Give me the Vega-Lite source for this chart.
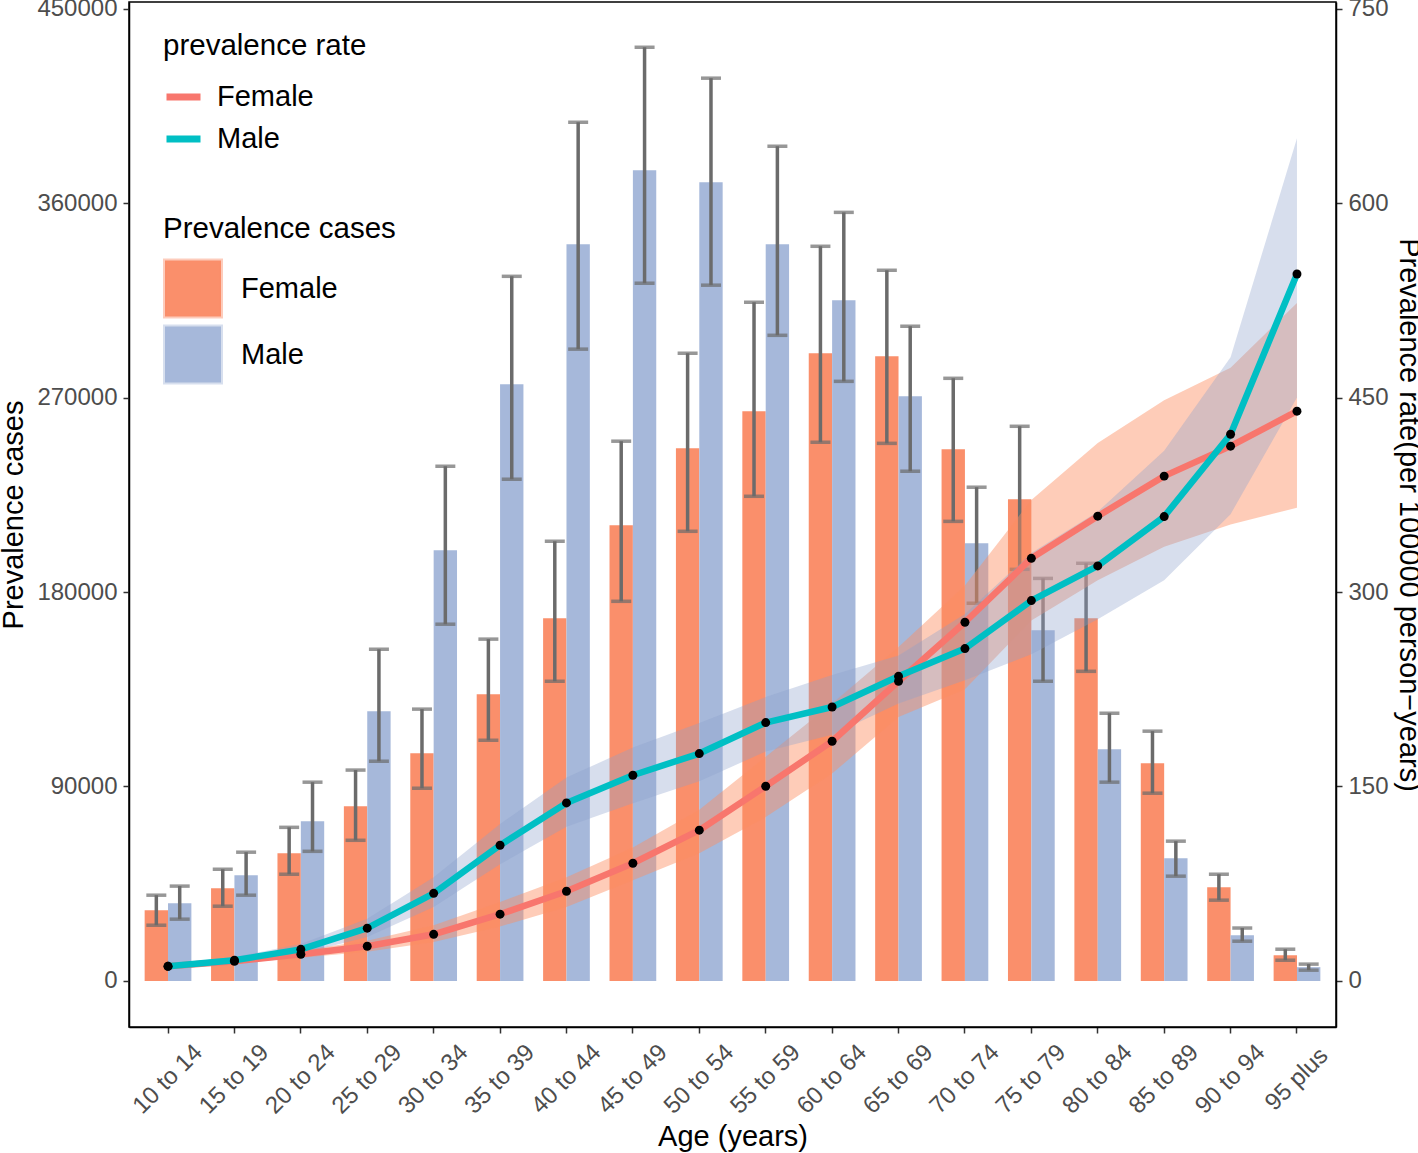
{
  "$schema": "https://vega.github.io/schema/vega-lite/v6.json",
  "width": 1207,
  "height": 1025,
  "autosize": {"type": "none"},
  "padding": {"left": 129, "top": 2, "right": 82, "bottom": 126},
  "background": "white",
  "config": {
    "font": "Liberation Sans",
    "view": {"stroke": "black", "strokeWidth": 1.5},
    "axis": {
      "grid": false,
      "domainColor": "black",
      "domainWidth": 1.5,
      "tickColor": "#333333",
      "tickWidth": 1.5,
      "tickSize": 6,
      "labelFont": "Liberation Sans",
      "labelFontSize": 24,
      "labelColor": "#4D4D4D",
      "titleFont": "Liberation Sans",
      "titleFontSize": 29,
      "titleFontWeight": "normal",
      "titleColor": "black"
    },
    "legend": {
      "titleFont": "Liberation Sans",
      "titleFontSize": 29.5,
      "titleFontWeight": "normal",
      "titleColor": "black",
      "titleLimit": 400,
      "labelFont": "Liberation Sans",
      "labelFontSize": 29,
      "labelColor": "black",
      "labelLimit": 300
    }
  },
  "datasets": {
    "d": [
      {"age": "10 to 14", "sex": "Female", "cases": 32700, "clo": 25800, "chi": 39700, "rate": 11.3, "rlo": 10, "rhi": 12.8},
      {"age": "15 to 19", "sex": "Female", "cases": 42900, "clo": 34600, "chi": 51700, "rate": 15.2, "rlo": 13.5, "rhi": 17},
      {"age": "20 to 24", "sex": "Female", "cases": 59100, "clo": 49400, "chi": 71100, "rate": 20.6, "rlo": 18, "rhi": 23.5},
      {"age": "25 to 29", "sex": "Female", "cases": 80900, "clo": 65100, "chi": 97600, "rate": 26.8, "rlo": 22.5, "rhi": 31},
      {"age": "30 to 34", "sex": "Female", "cases": 105400, "clo": 89200, "chi": 125800, "rate": 36, "rlo": 30, "rhi": 43},
      {"age": "35 to 39", "sex": "Female", "cases": 132700, "clo": 111400, "chi": 158200, "rate": 51.5, "rlo": 42, "rhi": 61},
      {"age": "40 to 44", "sex": "Female", "cases": 167900, "clo": 138700, "chi": 203500, "rate": 69.2, "rlo": 57, "rhi": 80},
      {"age": "45 to 49", "sex": "Female", "cases": 210900, "clo": 175700, "chi": 249800, "rate": 90.8, "rlo": 77.7, "rhi": 103},
      {"age": "50 to 54", "sex": "Female", "cases": 246500, "clo": 208100, "chi": 290500, "rate": 116.3, "rlo": 98.5, "rhi": 132},
      {"age": "55 to 59", "sex": "Female", "cases": 263600, "clo": 224300, "chi": 314100, "rate": 150.2, "rlo": 126.5, "rhi": 173},
      {"age": "60 to 64", "sex": "Female", "cases": 290500, "clo": 249300, "chi": 340000, "rate": 184.9, "rlo": 160, "rhi": 214},
      {"age": "65 to 69", "sex": "Female", "cases": 289100, "clo": 248800, "chi": 328900, "rate": 231.2, "rlo": 203.6, "rhi": 257.6},
      {"age": "70 to 74", "sex": "Female", "cases": 246100, "clo": 212700, "chi": 278900, "rate": 276.7, "rlo": 225, "rhi": 305},
      {"age": "75 to 79", "sex": "Female", "cases": 222900, "clo": 190500, "chi": 256700, "rate": 326, "rlo": 278, "rhi": 371},
      {"age": "80 to 84", "sex": "Female", "cases": 167900, "clo": 143300, "chi": 193300, "rate": 358.5, "rlo": 309, "rhi": 415},
      {"age": "85 to 89", "sex": "Female", "cases": 100800, "clo": 86900, "chi": 115600, "rate": 389.4, "rlo": 335, "rhi": 448},
      {"age": "90 to 94", "sex": "Female", "cases": 43400, "clo": 37400, "chi": 49400, "rate": 412.5, "rlo": 352, "rhi": 473},
      {"age": "95 plus", "sex": "Female", "cases": 11900, "clo": 9600, "chi": 14700, "rate": 439.5, "rlo": 365, "rhi": 523},
      {"age": "10 to 14", "sex": "Male", "cases": 36000, "clo": 28600, "chi": 43900, "rate": 11.3, "rlo": 10, "rhi": 13},
      {"age": "15 to 19", "sex": "Male", "cases": 48900, "clo": 39700, "chi": 59600, "rate": 16, "rlo": 14, "rhi": 18.5},
      {"age": "20 to 24", "sex": "Male", "cases": 73900, "clo": 60000, "chi": 92000, "rate": 24.4, "rlo": 21, "rhi": 28.5},
      {"age": "25 to 29", "sex": "Male", "cases": 124800, "clo": 101700, "chi": 153500, "rate": 40.7, "rlo": 34, "rhi": 48},
      {"age": "30 to 34", "sex": "Male", "cases": 199300, "clo": 165100, "chi": 238200, "rate": 67.6, "rlo": 57, "rhi": 80},
      {"age": "35 to 39", "sex": "Male", "cases": 276100, "clo": 232200, "chi": 326100, "rate": 104.7, "rlo": 90, "rhi": 121},
      {"age": "40 to 44", "sex": "Male", "cases": 340900, "clo": 292400, "chi": 397400, "rate": 137.3, "rlo": 119, "rhi": 157},
      {"age": "45 to 49", "sex": "Male", "cases": 375200, "clo": 322900, "chi": 432100, "rate": 158.7, "rlo": 137, "rhi": 180},
      {"age": "50 to 54", "sex": "Male", "cases": 369600, "clo": 322000, "chi": 417800, "rate": 175.4, "rlo": 154, "rhi": 199},
      {"age": "55 to 59", "sex": "Male", "cases": 340900, "clo": 298800, "chi": 386300, "rate": 199.3, "rlo": 177, "rhi": 219},
      {"age": "60 to 64", "sex": "Male", "cases": 315000, "clo": 277500, "chi": 355700, "rate": 211.3, "rlo": 190, "rhi": 236},
      {"age": "65 to 69", "sex": "Male", "cases": 270600, "clo": 235900, "chi": 303000, "rate": 235, "rlo": 214, "rhi": 251},
      {"age": "70 to 74", "sex": "Male", "cases": 202600, "clo": 174800, "chi": 228500, "rate": 256.4, "rlo": 232, "rhi": 283},
      {"age": "75 to 79", "sex": "Male", "cases": 162300, "clo": 138700, "chi": 186300, "rate": 293.4, "rlo": 252, "rhi": 330},
      {"age": "80 to 84", "sex": "Male", "cases": 107200, "clo": 92000, "chi": 123900, "rate": 320.1, "rlo": 279, "rhi": 362},
      {"age": "85 to 89", "sex": "Male", "cases": 56800, "clo": 48500, "chi": 64700, "rate": 358.2, "rlo": 309, "rhi": 409},
      {"age": "90 to 94", "sex": "Male", "cases": 21200, "clo": 18400, "chi": 24500, "rate": 421.7, "rlo": 360, "rhi": 481},
      {"age": "95 plus", "sex": "Male", "cases": 6400, "clo": 5000, "chi": 7800, "rate": 545.3, "rlo": 450, "rhi": 650}
    ]
  },
  "data": {"name": "d"},
  "encoding": {
    "x": {
      "field": "age",
      "type": "ordinal",
      "sort": null,
      "scale": {"paddingInner": 0, "paddingOuter": 0.0875},
      "axis": {
        "title": "Age (years)",
        "labelAngle": -45,
        "labelAlign": "center",
        "labelBaseline": "middle",
        "labelPadding": 46,
        "titlePadding": 4,
        "tickSize": 6
      }
    }
  },
  "layer": [
    {
      "layer": [
        {
          "mark": {"type": "bar"},
          "encoding": {
            "xOffset": {"field": "sex", "type": "nominal", "scale": {"paddingInner": 0, "paddingOuter": 0.421}},
            "y": {"field": "cases", "type": "quantitative", "title": "Prevalence cases",
                  "scale": {"domain": [-21300, 453050], "nice": false, "zero": false},
                  "axis": {"orient": "left", "values": [0, 90000, 180000, 270000, 360000, 450000], "format": "d", "labelPadding": 6, "titlePadding": 8}},
            "color": {
              "field": "sex", "type": "nominal",
              "scale": {"domain": ["Female", "Male"], "range": ["#FA8F6B", "#A6B8DA"]},
              "legend": {
                "title": "Prevalence cases",
                "orient": "none",
                "legendX": 34,
                "legendY": 213,
                "symbolType": "square",
                "symbolSize": 3136,
                "symbolOpacity": 1,
                "labelOffset": 18,
                "rowPadding": -12,
                "titlePadding": 14,
                "encode": {"symbols": {"update": {"stroke": {"scale": "color", "field": "value"}, "strokeOpacity": {"value": 0.45}, "strokeWidth": {"value": 4}}}}
              }
            }
          }
        },
        {
          "mark": {"type": "rule", "color": "#6B6B6B", "strokeWidth": 3.5},
          "encoding": {
            "xOffset": {"field": "sex", "type": "nominal"},
            "y": {"field": "clo", "type": "quantitative", "title": "Prevalence cases"},
            "y2": {"field": "chi"}
          }
        },
        {
          "mark": {"type": "tick", "color": "#6B6B6B", "size": 20, "thickness": 3.5},
          "encoding": {
            "xOffset": {"field": "sex", "type": "nominal"},
            "y": {"field": "chi", "type": "quantitative", "title": "Prevalence cases"}
          }
        },
        {
          "mark": {"type": "tick", "color": "#6B6B6B", "size": 20, "thickness": 3.5},
          "encoding": {
            "xOffset": {"field": "sex", "type": "nominal"},
            "y": {"field": "clo", "type": "quantitative", "title": "Prevalence cases"}
          }
        }
      ]
    },
    {
      "layer": [
        {
          "transform": [{"filter": "datum.sex === 'Female'"}],
          "mark": {"type": "area", "color": "#FC8D62", "opacity": 0.45},
          "encoding": {
            "y": {"field": "rlo", "type": "quantitative", "title": "Prevalence rate(per 100000 person\u2212years)",
                  "scale": {"domain": [-35.5, 755.08], "nice": false, "zero": false},
                  "axis": {"orient": "right", "values": [0, 150, 300, 450, 600, 750], "labelPadding": 6, "titlePadding": 5}},
            "y2": {"field": "rhi"}
          }
        },
        {
          "transform": [{"filter": "datum.sex === 'Male'"}],
          "mark": {"type": "area", "color": "#8DA0CB", "opacity": 0.35},
          "encoding": {
            "y": {"field": "rlo", "type": "quantitative", "title": "Prevalence rate(per 100000 person\u2212years)"},
            "y2": {"field": "rhi"}
          }
        },
        {
          "mark": {"type": "line", "strokeWidth": 6.5, "strokeJoin": "round"},
          "encoding": {
            "y": {"field": "rate", "type": "quantitative", "title": "Prevalence rate(per 100000 person\u2212years)"},
            "stroke": {
              "field": "sex", "type": "nominal",
              "scale": {"range": ["#F8766D", "#00BFC4"]},
              "legend": {
                "title": "prevalence rate",
                "orient": "none",
                "legendX": 34,
                "legendY": 30,
                "symbolType": "stroke",
                "symbolSize": 1156,
                "symbolStrokeWidth": 7,
                "labelOffset": 13,
                "rowPadding": 6,
                "titlePadding": 15
              }
            }
          }
        },
        {
          "mark": {"type": "point", "filled": true, "color": "black", "size": 80, "opacity": 1},
          "encoding": {
            "y": {"field": "rate", "type": "quantitative", "title": "Prevalence rate(per 100000 person\u2212years)"}
          }
        }
      ]
    }
  ],
  "resolve": {"scale": {"y": "independent"}}
}
